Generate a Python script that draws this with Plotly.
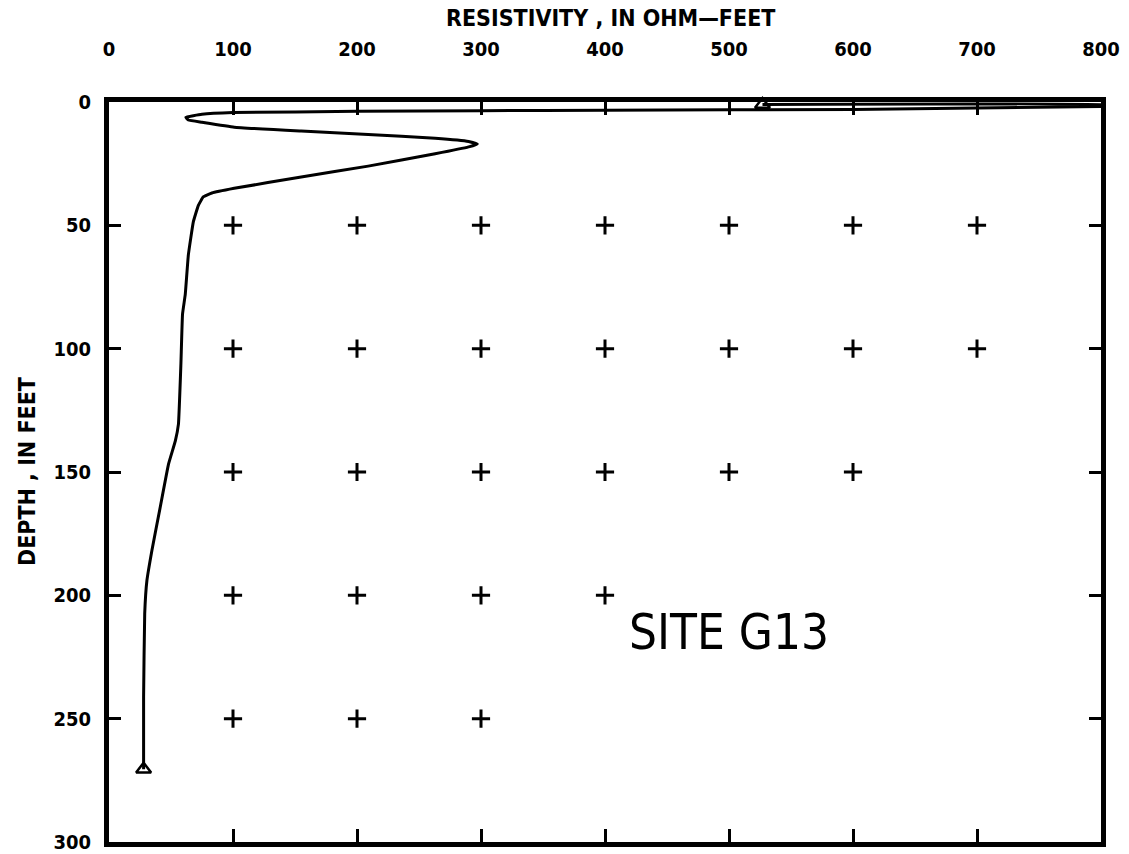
import plotly.graph_objects as go

# Resistivity log (ohm-feet) vs depth (feet)
resistivity = [527, 810, 810, 800, 600, 400, 300, 200, 100, 75, 62, 64, 75, 101, 155, 209, 263, 290, 297, 290,
               263, 209, 155, 101, 83, 76, 72, 68, 64, 61.5, 59.3, 58, 56, 53.5, 48, 41.3, 34.6, 30.6, 28.8, 27.9, 27.9]
depth = [1.0, 1.2, 1.6, 1.8, 3.0, 3.3, 3.5, 3.8, 4.3, 5.0, 6.2, 7.3, 8.2, 10.2, 11.8, 13.2, 14.7, 16, 17, 18.2,
         21, 26, 30.4, 35, 36.9, 38.5, 42, 48.6, 62, 78, 86, 106, 130.6, 137.4, 146.8, 164.3, 181.8, 193.9, 207.4, 241, 270.5]

# Start / end markers of the log
marker_res = [527, 27.9]
marker_depth = [1, 270.5]

# Grid crosses
cross_res = [100, 200, 300, 400, 500, 600, 700,
             100, 200, 300, 400, 500, 600, 700,
             100, 200, 300, 400, 500, 600,
             100, 200, 300, 400,
             100, 200, 300]
cross_depth = [50] * 7 + [100] * 7 + [150] * 6 + [200] * 4 + [250] * 3

x_ticks = [0, 100, 200, 300, 400, 500, 600, 700, 800]
x_ticktext = ["0", "100", "200", "300", "400", "500", "600", "700", "800"]
y_ticks = [0, 50, 100, 150, 200, 250, 300]

fig = go.Figure()
fig.add_trace(go.Scatter(x=cross_res, y=cross_depth, mode="markers",
                         marker=dict(symbol="cross-thin", size=13, line=dict(width=3, color="black")),
                         hoverinfo="skip"))
fig.add_trace(go.Scatter(x=resistivity, y=depth, mode="lines",
                         line=dict(color="black", width=3, shape="spline", smoothing=0.3)))
fig.add_trace(go.Scatter(x=marker_res, y=marker_depth, mode="markers",
                         marker=dict(symbol="triangle-up-open", size=13, color="black", line=dict(width=2.5)),
                         cliponaxis=False))

tick_font = dict(family="DejaVu Sans Condensed", size=20, color="black", weight="bold")

fig.update_layout(
    template="none",
    width=1129, height=854,
    margin=dict(l=109, r=28, t=102, b=12, autoexpand=False),
    paper_bgcolor="white", plot_bgcolor="white",
    showlegend=False,
    xaxis=dict(range=[0, 800], side="top", tickvals=x_ticks, ticktext=x_ticktext,
               ticks="inside", ticklen=13, tickwidth=2.5, tickcolor="black",
               showline=True, linewidth=5, linecolor="black", mirror="ticks",
               showgrid=False, zeroline=False, tickfont=tick_font, ticklabelstandoff=33,
               ticklabeloverflow="allow", automargin=False),
    yaxis=dict(range=[300, 0], tickvals=y_ticks,
               ticks="inside", ticklen=12, tickwidth=2.5, tickcolor="black",
               showline=True, linewidth=5, linecolor="black", mirror="ticks",
               showgrid=False, zeroline=False, tickfont=tick_font, ticklabelstandoff=9,
               ticklabeloverflow="allow", automargin=False),
    annotations=[
        dict(text="RESISTIVITY , IN OHM\u2014FEET", xref="paper", yref="paper", x=(610 - 109) / 992,
             y=1.0, yshift=84, xanchor="center", yanchor="middle", showarrow=False,
             font=dict(family="DejaVu Sans Condensed", size=23, color="black", weight="bold")),
        dict(text="DEPTH , IN FEET", xref="paper", yref="paper", x=0, xshift=-82,
             y=0.5, xanchor="center", yanchor="middle", textangle=-90, showarrow=False,
             font=dict(family="DejaVu Sans Condensed", size=23, color="black", weight="bold")),
        dict(text="SITE G13", x=500, y=215, xref="x", yref="y", showarrow=False,
             xanchor="center", yanchor="middle",
             font=dict(family="DejaVu Sans Condensed", size=49, color="black")),
    ],
)

fig.write_html("out.html", config={"displayModeBar": False},
               post_script="document.body.style.margin='0px';")
